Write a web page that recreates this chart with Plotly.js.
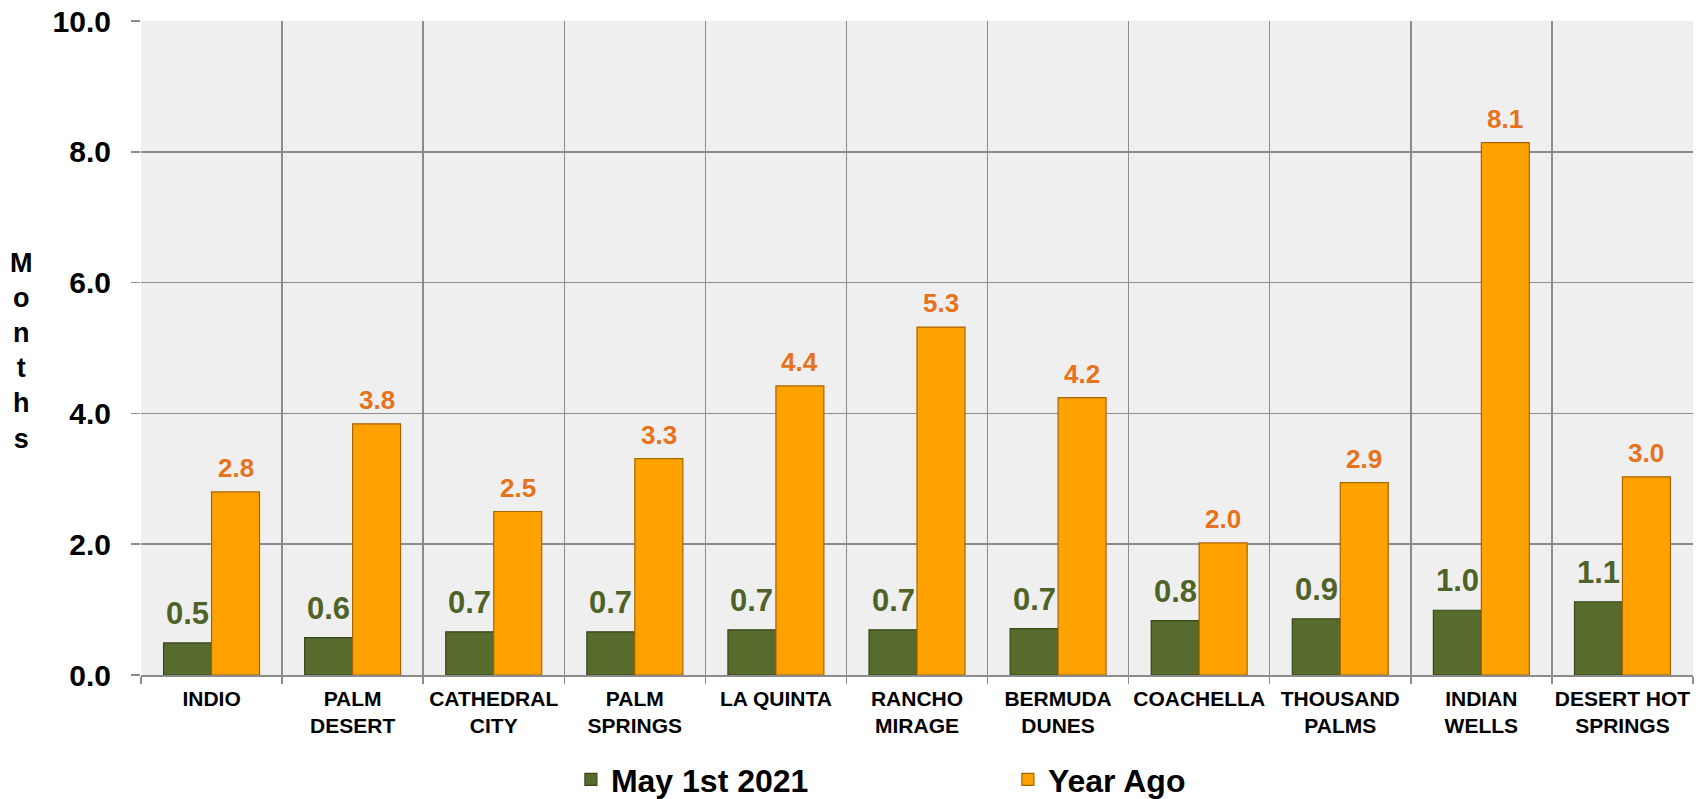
<!DOCTYPE html>
<html>
<head>
<meta charset="utf-8">
<script src="https://cdn.plot.ly/plotly-3.0.1.min.js"></script>
<style>
html,body{margin:0;padding:0;background:#fff;}
#chart{width:1699px;height:799px;}
</style>
</head>
<body>
<div id="chart"></div>
<script>
var categories = ["INDIO", "PALM<br>DESERT", "CATHEDRAL<br>CITY", "PALM<br>SPRINGS", "LA QUINTA",
  "RANCHO<br>MIRAGE", "BERMUDA<br>DUNES", "COACHELLA", "THOUSAND<br>PALMS", "INDIAN<br>WELLS", "DESERT HOT<br>SPRINGS"];
var may2021 = [0.49, 0.57, 0.66, 0.66, 0.69, 0.69, 0.71, 0.83, 0.86, 0.99, 1.12];
var yearAgo = [2.80, 3.84, 2.50, 3.31, 4.42, 5.32, 4.24, 2.02, 2.94, 8.14, 3.03];
var seriesNames = ["May 1st 2021", "Year Ago"];
var yTicks = [0, 2, 4, 6, 8, 10];

var FONT = "Liberation Sans, Arial, Helvetica, sans-serif";
var greenLabel = "#4F6228";
var orangeLabel = "#E8721C";

var traces = [
  {
    type: "bar", name: seriesNames[0], x: categories, y: may2021,
    marker: {color: "#566B2C", line: {color: "#36451A", width: 1.2}},
    hoverinfo: "y"
  },
  {
    type: "bar", name: seriesNames[1], x: categories, y: yearAgo,
    marker: {color: "#FFA200", line: {color: "#A86400", width: 1.2}},
    hoverinfo: "y"
  }
];

var annotations = [];
categories.forEach(function (c, i) {
  annotations.push({
    x: c, y: may2021[i], xref: "x", yref: "y", xshift: -24, yshift: 10,
    yanchor: "bottom", showarrow: false, text: may2021[i].toFixed(1),
    font: {family: FONT, size: 31, color: greenLabel, weight: "bold"}
  });
  annotations.push({
    x: c, y: yearAgo[i], xref: "x", yref: "y", xshift: 24, yshift: 7,
    yanchor: "bottom", showarrow: false, text: yearAgo[i].toFixed(1),
    font: {family: FONT, size: 26, color: orangeLabel, weight: "bold"}
  });
});
annotations.push({
  xref: "paper", yref: "paper", x: -0.077, y: 0.495, xanchor: "center", yanchor: "middle",
  showarrow: false, text: "M<br>o<br>n<br>t<br>h<br>s",
  font: {family: FONT, size: 27, color: "#000", weight: "bold"}
});

var layout = {
  width: 1699, height: 799,
  margin: {l: 141, r: 6, t: 21, b: 124, autoexpand: false},
  paper_bgcolor: "#FFFFFF",
  plot_bgcolor: "#EFEFEF",
  barmode: "group",
  bargap: 0.32,
  bargroupgap: 0,
  showlegend: true,
  legend: {
    orientation: "h", x: 0.277, y: -0.16, xanchor: "left", yanchor: "middle",
    entrywidth: 392, entrywidthmode: "pixels",
    font: {family: FONT, size: 32, color: "#000", weight: "bold"},
    bgcolor: "rgba(0,0,0,0)"
  },
  xaxis: {
    type: "category",
    tickson: "boundaries",
    showgrid: true, gridcolor: "#8C8C8C", gridwidth: 1.5,
    showline: true, linecolor: "#8C8C8C", linewidth: 1.5,
    ticks: "outside", ticklen: 7, tickcolor: "#8C8C8C", tickwidth: 1.5,
    tickfont: {family: FONT, size: 21, color: "#000", weight: "bold"},
    ticklabelstandoff: 4,
    tickangle: 0
  },
  yaxis: {
    range: [0, 10],
    tickvals: yTicks,
    tickformat: ".1f",
    showgrid: true, gridcolor: "#8C8C8C", gridwidth: 1.5,
    zeroline: false,
    showline: false,
    ticks: "outside", ticklen: 9, tickcolor: "#8C8C8C", tickwidth: 1.5,
    tickfont: {family: FONT, size: 30, color: "#000", weight: "bold"},
    ticklabelstandoff: 14
  },
  annotations: annotations
};

Plotly.newPlot("chart", traces, layout, {displayModeBar: false, staticPlot: true});
</script>
</body>
</html>
